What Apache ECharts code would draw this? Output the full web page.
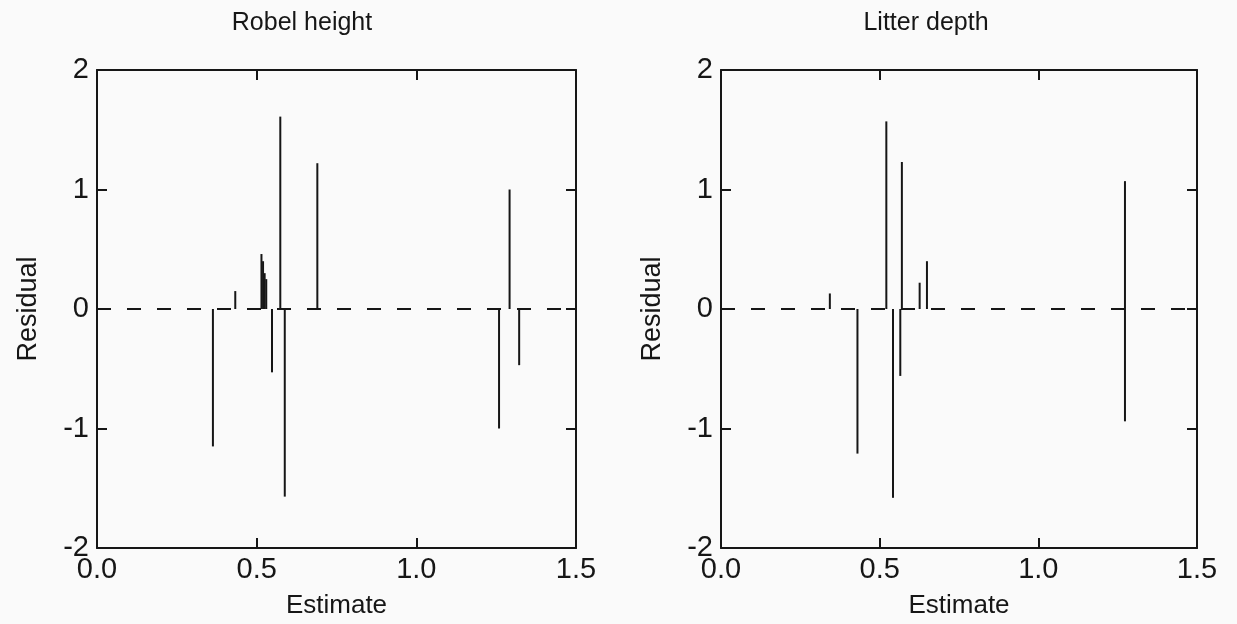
<!DOCTYPE html>
<html>
<head>
<meta charset="utf-8">
<script src="https://cdn.jsdelivr.net/npm/echarts@6/dist/echarts.min.js"></script>
<style>
  html, body { margin: 0; padding: 0; background: #fafafa; }
  #chart { width: 1237px; height: 624px; }
</style>
</head>
<body>
<div id="chart"></div>
<script>
// Residuals plotted against model estimates, one panel per response
const panelTitles = ['Robel height', 'Litter depth'];
const xTicks = [0, 0.5, 1.0, 1.5];
const yTicks = [-2, -1, 0, 1, 2];

const robelEstimate = [0.363, 0.433, 0.515, 0.520, 0.525, 0.530, 0.548, 0.574, 0.588, 0.690, 1.259, 1.292, 1.322];
const robelResidual = [-1.15, 0.15, 0.46, 0.40, 0.30, 0.25, -0.53, 1.61, -1.57, 1.22, -1.00, 1.00, -0.47];

const litterEstimate = [0.343, 0.430, 0.521, 0.542, 0.565, 0.570, 0.626, 0.649, 1.273, 1.273];
const litterResidual = [0.13, -1.21, 1.57, -1.58, -0.56, 1.23, 0.22, 0.40, 1.07, -0.94];

const zeroLine = [[0, 0], [1.5, 0]];

const ink = '#161616';
const font = '"Liberation Sans", Arial, sans-serif';

const grids = [
  { left: 97, top: 70, width: 479, height: 482 },
  { left: 721, top: 70, width: 476, height: 482 }
];

function xAxisFor(gridIndex, position) {
  return {
    type: 'value', gridIndex, position,
    min: xTicks[0], max: xTicks[xTicks.length - 1], interval: 0.5,
    name: position === 'bottom' ? 'Estimate' : '',
    nameLocation: 'middle', nameGap: 45,
    nameTextStyle: { fontFamily: font, fontSize: 26, color: ink },
    axisLine: { show: true, onZero: false, lineStyle: { color: ink, width: 2 } },
    axisTick: { show: true, inside: true, length: 10, lineStyle: { color: ink, width: 2 } },
    axisLabel: {
      show: position === 'bottom', margin: 7,
      fontFamily: font, fontSize: 29, color: ink,
      formatter: v => v.toFixed(1)
    },
    splitLine: { show: false }
  };
}

function yAxisFor(gridIndex, position) {
  return {
    type: 'value', gridIndex, position,
    min: yTicks[0], max: yTicks[yTicks.length - 1], interval: 1,
    name: position === 'left' ? 'Residual' : '',
    nameLocation: 'middle', nameGap: 55,
    nameTextStyle: { fontFamily: font, fontSize: 27, color: ink },
    axisLine: { show: true, onZero: false, lineStyle: { color: ink, width: 2 } },
    axisTick: { show: true, inside: true, length: 10, lineStyle: { color: ink, width: 2 } },
    axisLabel: {
      show: position === 'left', margin: 8,
      fontFamily: font, fontSize: 29, color: ink
    },
    splitLine: { show: false }
  };
}

function spikeSeries(axisIndex, xs, ys) {
  return {
    type: 'custom',
    xAxisIndex: axisIndex, yAxisIndex: axisIndex,
    data: xs.map((x, i) => [x, ys[i]]),
    renderItem: function (params, api) {
      const base = api.coord([api.value(0), 0]);
      const tip = api.coord([api.value(0), api.value(1)]);
      return {
        type: 'line',
        shape: { x1: base[0], y1: base[1], x2: tip[0], y2: tip[1] },
        style: { stroke: ink, lineWidth: 2 }
      };
    },
    z: 3
  };
}

function zeroSeries(axisIndex) {
  return {
    type: 'line',
    xAxisIndex: axisIndex, yAxisIndex: axisIndex,
    data: zeroLine, symbol: 'none', silent: true,
    lineStyle: { color: ink, width: 2, type: [14, 16] },
    z: 2
  };
}

const chart = echarts.init(document.getElementById('chart'), null, { renderer: 'canvas' });
chart.setOption({
  backgroundColor: '#fafafa',
  animation: false,
  title: [
    { text: panelTitles[0], left: 297, top: 6, textAlign: 'center',
      textStyle: { fontFamily: font, fontSize: 25, fontWeight: 'normal', color: ink } },
    { text: panelTitles[1], left: 921, top: 6, textAlign: 'center',
      textStyle: { fontFamily: font, fontSize: 25, fontWeight: 'normal', color: ink } }
  ],
  grid: grids,
  xAxis: [
    xAxisFor(0, 'bottom'), xAxisFor(0, 'top'),
    xAxisFor(1, 'bottom'), xAxisFor(1, 'top')
  ],
  yAxis: [
    yAxisFor(0, 'left'), yAxisFor(0, 'right'),
    yAxisFor(1, 'left'), yAxisFor(1, 'right')
  ],
  series: [
    zeroSeries(0),
    spikeSeries(0, robelEstimate, robelResidual),
    zeroSeries(2),
    spikeSeries(2, litterEstimate, litterResidual)
  ]
});
</script>
</body>
</html>
